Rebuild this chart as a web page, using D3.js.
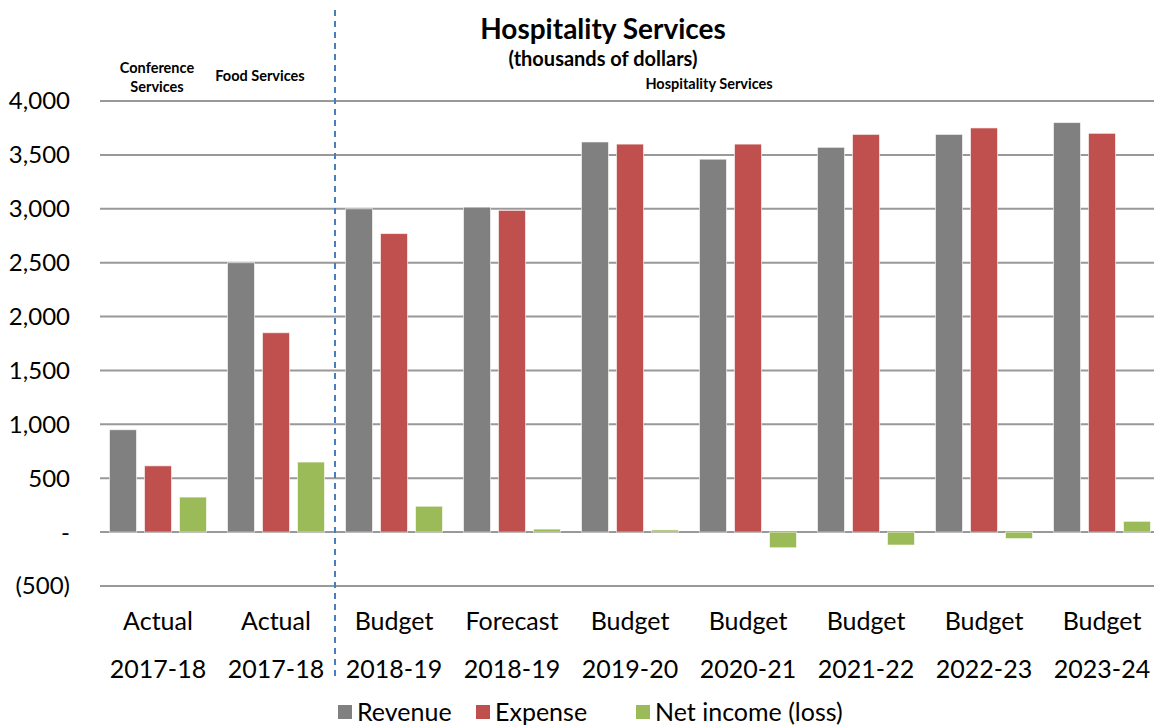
<!DOCTYPE html>
<html>
<head>
<meta charset="utf-8">
<script src="https://cdn.jsdelivr.net/npm/d3@7"></script>
<style>
  body { margin: 0; background: #fff; }
  text { font-family: Lato, "Open Sans", sans-serif; fill: #000; }
</style>
</head>
<body>
<div id="chart"></div>
<script>
// chart data
var kinds = ["Actual", "Actual", "Budget", "Forecast", "Budget", "Budget", "Budget", "Budget", "Budget"];
var years = ["2017-18", "2017-18", "2018-19", "2018-19", "2019-20", "2020-21", "2021-22", "2022-23", "2023-24"];
var revenue = [950, 2500, 3000, 3015, 3620, 3460, 3570, 3690, 3800];
var expense = [615, 1850, 2770, 2985, 3600, 3600, 3690, 3750, 3700];
var netIncome = [325, 650, 240, 28, 20, -145, -120, -60, 100];
var seriesNames = ["Revenue", "Expense", "Net income (loss)"];
var seriesColors = ["#808080", "#c0504d", "#9bbb59"];
var yTicks = [-500, 0, 500, 1000, 1500, 2000, 2500, 3000, 3500, 4000];

var width = 1154, height = 725;
var svg = d3.select("#chart").append("svg")
  .attr("width", width)
  .attr("height", height);

var idx = d3.range(kinds.length);
var x0 = d3.scaleBand().domain(idx).range([99, 1161])
  .paddingInner(21 / 118).paddingOuter(10.5 / 118);
var x1 = d3.scaleBand().domain(d3.range(3)).range([0, x0.bandwidth()])
  .paddingInner(8 / 35);
var y = d3.scaleLinear().domain([-500, 4000]).range([586, 101]);

function fmt(v) {
  if (v === 0) return "-";
  if (v < 0) return "(" + d3.format(",")(-v) + ")";
  return d3.format(",")(v);
}

// gridlines
svg.append("g").selectAll("line").data(yTicks).enter().append("line")
  .attr("x1", 100).attr("x2", width)
  .attr("y1", function(d) { return y(d); })
  .attr("y2", function(d) { return y(d); })
  .attr("stroke", "#999")
  .attr("stroke-width", 2);

// y labels
svg.append("g").selectAll("text").data(yTicks).enter().append("text")
  .attr("x", 70)
  .attr("y", function(d) { return y(d); })
  .attr("dy", "0.35em")
  .attr("text-anchor", "end")
  .style("font-size", "24px")
  .text(fmt);

// bars
var rows = idx.map(function(i) {
  return [revenue[i], expense[i], netIncome[i]];
});
var groups = svg.append("g").selectAll("g").data(rows).enter().append("g")
  .attr("transform", function(d, i) { return "translate(" + x0(i) + ",0)"; });
groups.selectAll("rect").data(function(d) { return d; }).enter().append("rect")
  .attr("x", function(d, j) { return x1(j); })
  .attr("width", x1.bandwidth())
  .attr("y", function(d) { return y(Math.max(0, d)); })
  .attr("height", function(d) { return Math.abs(y(d) - y(0)); })
  .attr("fill", function(d, j) { return seriesColors[j]; })
  .attr("stroke", "rgba(255,255,255,0.6)")
  .attr("stroke-width", 1);

// category labels
var cx = function(d, i) { return x0(i) + x0.bandwidth() / 2; };
svg.append("g").selectAll("text").data(kinds).enter().append("text")
  .attr("x", cx).attr("y", 630)
  .attr("text-anchor", "middle")
  .style("font-size", "25px")
  .text(function(d) { return d; });
svg.append("g").selectAll("text").data(years).enter().append("text")
  .attr("x", cx).attr("y", 678)
  .attr("text-anchor", "middle")
  .style("font-size", "25px")
  .text(function(d) { return d; });

// divider
svg.append("line")
  .attr("x1", 335).attr("x2", 335)
  .attr("y1", 10).attr("y2", 680)
  .attr("stroke", "#4a7ebb")
  .attr("stroke-width", 2)
  .attr("stroke-dasharray", "6,5");

// titles
svg.append("text").attr("x", 603).attr("y", 39)
  .attr("text-anchor", "middle")
  .style("font-size", "28px").style("font-weight", "bold")
  .text("Hospitality Services");
svg.append("text").attr("x", 603).attr("y", 66)
  .attr("text-anchor", "middle")
  .style("font-size", "20px").style("font-weight", "bold")
  .text("(thousands of dollars)");
svg.append("text").attr("x", 709).attr("y", 89)
  .attr("text-anchor", "middle")
  .style("font-size", "14.5px").style("font-weight", "bold")
  .text("Hospitality Services");
svg.append("text").attr("x", 157).attr("y", 73)
  .attr("text-anchor", "middle")
  .style("font-size", "14.5px").style("font-weight", "bold")
  .text("Conference");
svg.append("text").attr("x", 157).attr("y", 92)
  .attr("text-anchor", "middle")
  .style("font-size", "14.5px").style("font-weight", "bold")
  .text("Services");
svg.append("text").attr("x", 260).attr("y", 81)
  .attr("text-anchor", "middle")
  .style("font-size", "14.5px").style("font-weight", "bold")
  .text("Food Services");

// legend
var legendX = [338, 476, 636];
var leg = svg.append("g").selectAll("g").data(seriesNames).enter().append("g")
  .attr("transform", function(d, i) { return "translate(" + legendX[i] + ",705)"; });
leg.append("rect").attr("width", 14).attr("height", 14)
  .attr("fill", function(d, i) { return seriesColors[i]; });
leg.append("text").attr("x", 19).attr("y", 7).attr("dy", "0.35em")
  .style("font-size", "25px")
  .text(function(d) { return d; });
</script>
</body>
</html>
